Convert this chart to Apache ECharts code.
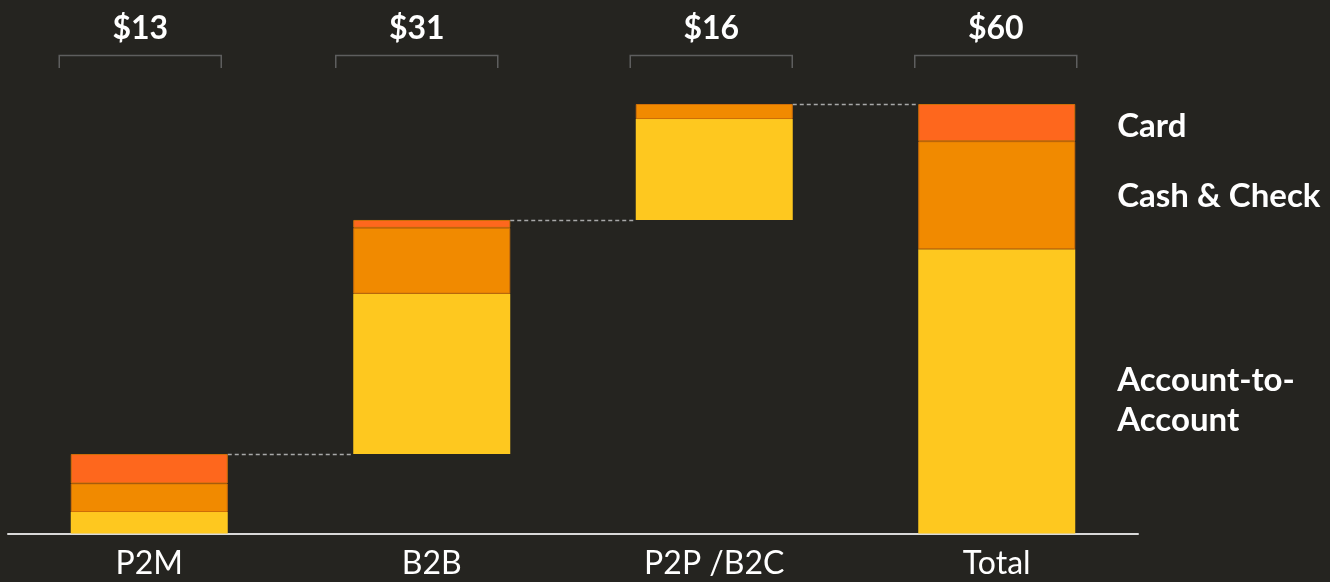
<!DOCTYPE html>
<html><head><meta charset="utf-8">
<script src="https://cdn.jsdelivr.net/npm/echarts@6/dist/echarts.min.js"></script>
<style>html,body{margin:0;padding:0;background:#252420;}#c{width:1330px;height:582px;}</style>
</head><body><div id="c"></div>
<script>
// ---- data ----
const categories = ['P2M', 'B2B', 'P2P /B2C', 'Total'];
const accountToAccount = [3.0, 22.4, 14.1, 39.7];
const cashAndCheck = [4.0, 9.2, 2.1, 15.1];
const card = [4.1, 1.1, 0, 5.2];
const topLabels = ['$13', '$31', '$16', '$60'];
const segmentNames = ['Account-to-\nAccount', 'Cash & Check', 'Card'];

// ---- layout / style constants ----
const FONT = 'Lato, "Open Sans", sans-serif';
const BAR_W = 157;
const bracketShift = [-9, -15, -3, -1];
const colors = { a2a: '#fec81f', cash: '#f18a00', card: '#fe671d' };

// ---- derived ----
const n = categories.length;
const totals = categories.map((c, i) => accountToAccount[i] + cashAndCheck[i] + card[i]);
const bases = [];
let run = 0;
for (let i = 0; i < n; i++) {
  if (i === n - 1) { bases.push(0); } else { bases.push(run); run += totals[i]; }
}
const tops = bases.map((b, i) => b + totals[i]);

function withTotalLabel(arr, name, offY) {
  return arr.map((v, i) => {
    if (i !== n - 1) {
      return v === 0 ? { value: v, itemStyle: { borderWidth: 0 } } : v;
    }
    return {
      value: v,
      label: {
        show: true, position: 'right', distance: 42, formatter: name,
        color: '#ffffff', fontSize: 33, fontWeight: 'bold', fontFamily: FONT,
        lineHeight: 40, align: 'left', verticalAlign: 'middle', offset: [0, offY]
      }
    };
  });
}

const chart = echarts.init(document.getElementById('c'), null, { renderer: 'canvas' });
chart.setOption({
  backgroundColor: '#252420',
  animation: false,
  grid: { left: 8, right: 192, top: 104, bottom: 48.5 },
  xAxis: {
    type: 'category', data: categories,
    axisLine: { show: true, lineStyle: { color: '#d9d9d9', width: 2 } },
    axisTick: { show: false },
    axisLabel: { color: '#ffffff', fontSize: 32, fontFamily: FONT, margin: 14 }
  },
  yAxis: { type: 'value', min: 0, max: 60, show: false, splitLine: { show: false } },
  series: [
    { name: 'base', type: 'bar', stack: 's', barWidth: BAR_W, data: bases,
      itemStyle: { color: 'transparent' }, silent: true },
    { name: 'Account-to-Account', type: 'bar', stack: 's', barWidth: BAR_W,
      data: withTotalLabel(accountToAccount, segmentNames[0], 9),
      itemStyle: { color: colors.a2a } },
    { name: 'Cash & Check', type: 'bar', stack: 's', barWidth: BAR_W,
      data: withTotalLabel(cashAndCheck, segmentNames[1], 1),
      itemStyle: { color: colors.cash, borderColor: '#cf6f08', borderWidth: 1 } },
    { name: 'Card', type: 'bar', stack: 's', barWidth: BAR_W,
      data: withTotalLabel(card, segmentNames[2], 4),
      itemStyle: { color: colors.card, borderColor: '#cf6f08', borderWidth: 1 } },
    { name: 'connectors', type: 'custom', silent: true, z: 5,
      data: tops.slice(0, n - 1).map((t, i) => [i, t]),
      renderItem: function (params, api) {
        const i = api.value(0), v = api.value(1);
        const p1 = api.coord([i, v]);
        const p2 = api.coord([i + 1, v]);
        return {
          type: 'line',
          shape: { x1: p1[0] + BAR_W / 2, y1: Math.round(p1[1]) + 0.5, x2: p2[0] - BAR_W / 2, y2: Math.round(p1[1]) + 0.5 },
          style: { stroke: '#a8a8a8', lineWidth: 1.5, lineDash: [4, 3] }
        };
      }
    },
    { name: 'brackets', type: 'custom', silent: true, z: 5,
      data: topLabels.map((t, i) => [i, 0]),
      renderItem: function (params, api) {
        const i = api.value(0);
        const c = api.coord([i, 0]);
        const cx = c[0] + bracketShift[i];
        const hw = 81;
        return {
          type: 'group',
          children: [
            { type: 'polyline',
              shape: { points: [[cx - hw, 68], [cx - hw, 55.5], [cx + hw, 55.5], [cx + hw, 68]] },
              style: { stroke: '#5e5e5e', lineWidth: 1.5, fill: null } },
            { type: 'text',
              style: { text: topLabels[i], x: cx, y: 29, align: 'center', verticalAlign: 'middle',
                fill: '#ffffff', font: 'bold 32px ' + FONT } }
          ]
        };
      }
    }
  ]
});
</script>
</body></html>
